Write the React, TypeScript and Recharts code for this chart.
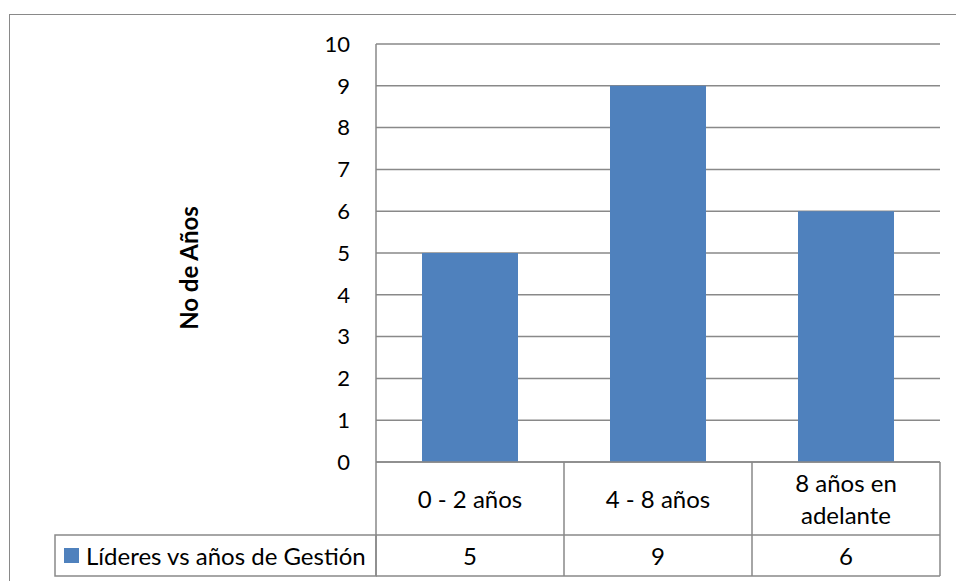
import React from "react";
import { BarChart, Bar, XAxis, YAxis, CartesianGrid } from "recharts";

// Chart data
const categories = ["0 - 2 años", "4 - 8 años", "8 años en adelante"];
const values = [5, 9, 6];
const seriesName = "Líderes vs años de Gestión";
const yTicks = [0, 1, 2, 3, 4, 5, 6, 7, 8, 9, 10];
const yTitle = "No de Años";

const W = 956;
const H = 581;
const FONT = "Lato, 'Open Sans', sans-serif";
const LINE = "#898989";
const BAR = "#4F81BD";

const row1H = 73;
const row2H = 41;
const margin = { top: 44, right: 16, bottom: 5, left: 316 };
const plotLeft = 376;
const plotRight = W - margin.right;
const cellW = (plotRight - plotLeft) / categories.length;

function wrap(text: string, max: number) {
	const words = text.split(" ");
	const lines: string[] = [];
	let cur = "";
	for (const w of words) {
		const next = cur ? cur + " " + w : w;
		if (next.length > max && cur) {
			lines.push(cur);
			cur = w;
		} else cur = next;
	}
	if (cur) lines.push(cur);
	return lines;
}

// draws each category column of the data table below the axis
function TableTick(props: any) {
	const { x, y, payload, index } = props;
	const left = x - cellW / 2;
	const right = x + cellW / 2;
	const lines = wrap(String(payload.value), 10);
	const lh = 32;
	const midY = y + row1H / 2;
	const firstY = midY - ((lines.length - 1) * lh) / 2;
	const rowBottom = y + row1H + row2H;
	return (
		<g>
			<line x1={left} y1={y} x2={left} y2={rowBottom} stroke={LINE} strokeWidth={1.5} />
			{index === categories.length - 1 && (
				<line x1={right} y1={y} x2={right} y2={rowBottom} stroke={LINE} strokeWidth={1.5} />
			)}
			<line x1={left} y1={y + row1H} x2={right} y2={y + row1H} stroke={LINE} strokeWidth={1.5} />
			<line x1={left} y1={rowBottom} x2={right} y2={rowBottom} stroke={LINE} strokeWidth={1.5} />
			{lines.map((l, i) => (
				<text
					key={i}
					x={x}
					y={firstY + i * lh}
					textAnchor="middle"
					dominantBaseline="central"
					fontSize={24}
					fontFamily={FONT}
					fill="#000"
				>
					{l}
				</text>
			))}
			<text
				x={x}
				y={y + row1H + row2H / 2}
				textAnchor="middle"
				dominantBaseline="central"
				fontSize={24}
				fontFamily={FONT}
				fill="#000"
			>
				{values[index]}
			</text>
			{index === 0 && (
				<g>
					<rect
						x={55}
						y={y + row1H}
						width={left - 55}
						height={row2H}
						fill="none"
						stroke={LINE}
						strokeWidth={1.5}
					/>
					<rect x={64} y={y + row1H + 13} width={15} height={15} fill={BAR} />
					<text
						x={86}
						y={y + row1H + row2H / 2}
						dominantBaseline="central"
						fontSize={24}
						fontFamily={FONT}
						fill="#000"
					>
						{seriesName}
					</text>
				</g>
			)}
		</g>
	);
}

export default function App() {
	const data = categories.map((c, i) => ({ name: c, value: values[i] }));
	return (
		<div
			style={{
				position: "fixed",
				left: 0,
				top: 0,
				width: W,
				height: H,
				overflow: "hidden",
				background: "#fff",
			}}
		>
			<div
				style={{
					position: "absolute",
					left: 9,
					top: 14,
					width: 970,
					height: 620,
					border: `1.5px solid ${LINE}`,
				}}
			/>
			<div
				style={{
					position: "absolute",
					left: 188,
					top: 268,
					transform: "translate(-50%, -50%) rotate(-90deg)",
					fontFamily: FONT,
					fontWeight: "bold",
					fontSize: 24,
					whiteSpace: "nowrap",
				}}
			>
				{yTitle}
			</div>
			<div style={{ position: "absolute", left: 0, top: 0 }}>
				<BarChart width={W} height={H} data={data} margin={margin}>
					<CartesianGrid horizontal vertical={false} stroke={LINE} strokeWidth={1.5} />
					<XAxis
						dataKey="name"
						axisLine={{ stroke: LINE, strokeWidth: 1.5 }}
						tickLine={false}
						tickSize={0}
						tickMargin={0}
						interval={0}
						tick={<TableTick />}
						height={row1H + row2H}
					/>
					<YAxis
						domain={[0, 10]}
						ticks={yTicks}
						width={60}
						axisLine={{ stroke: LINE, strokeWidth: 1.5 }}
						tickLine={false}
						tickSize={0}
						tickMargin={26}
						interval={0}
						tick={{ fontSize: 22, fill: "#000", fontFamily: FONT }}
					/>
					<Bar dataKey="value" name={seriesName} fill={BAR} barSize={96} isAnimationActive={false} />
				</BarChart>
			</div>
		</div>
	);
}
